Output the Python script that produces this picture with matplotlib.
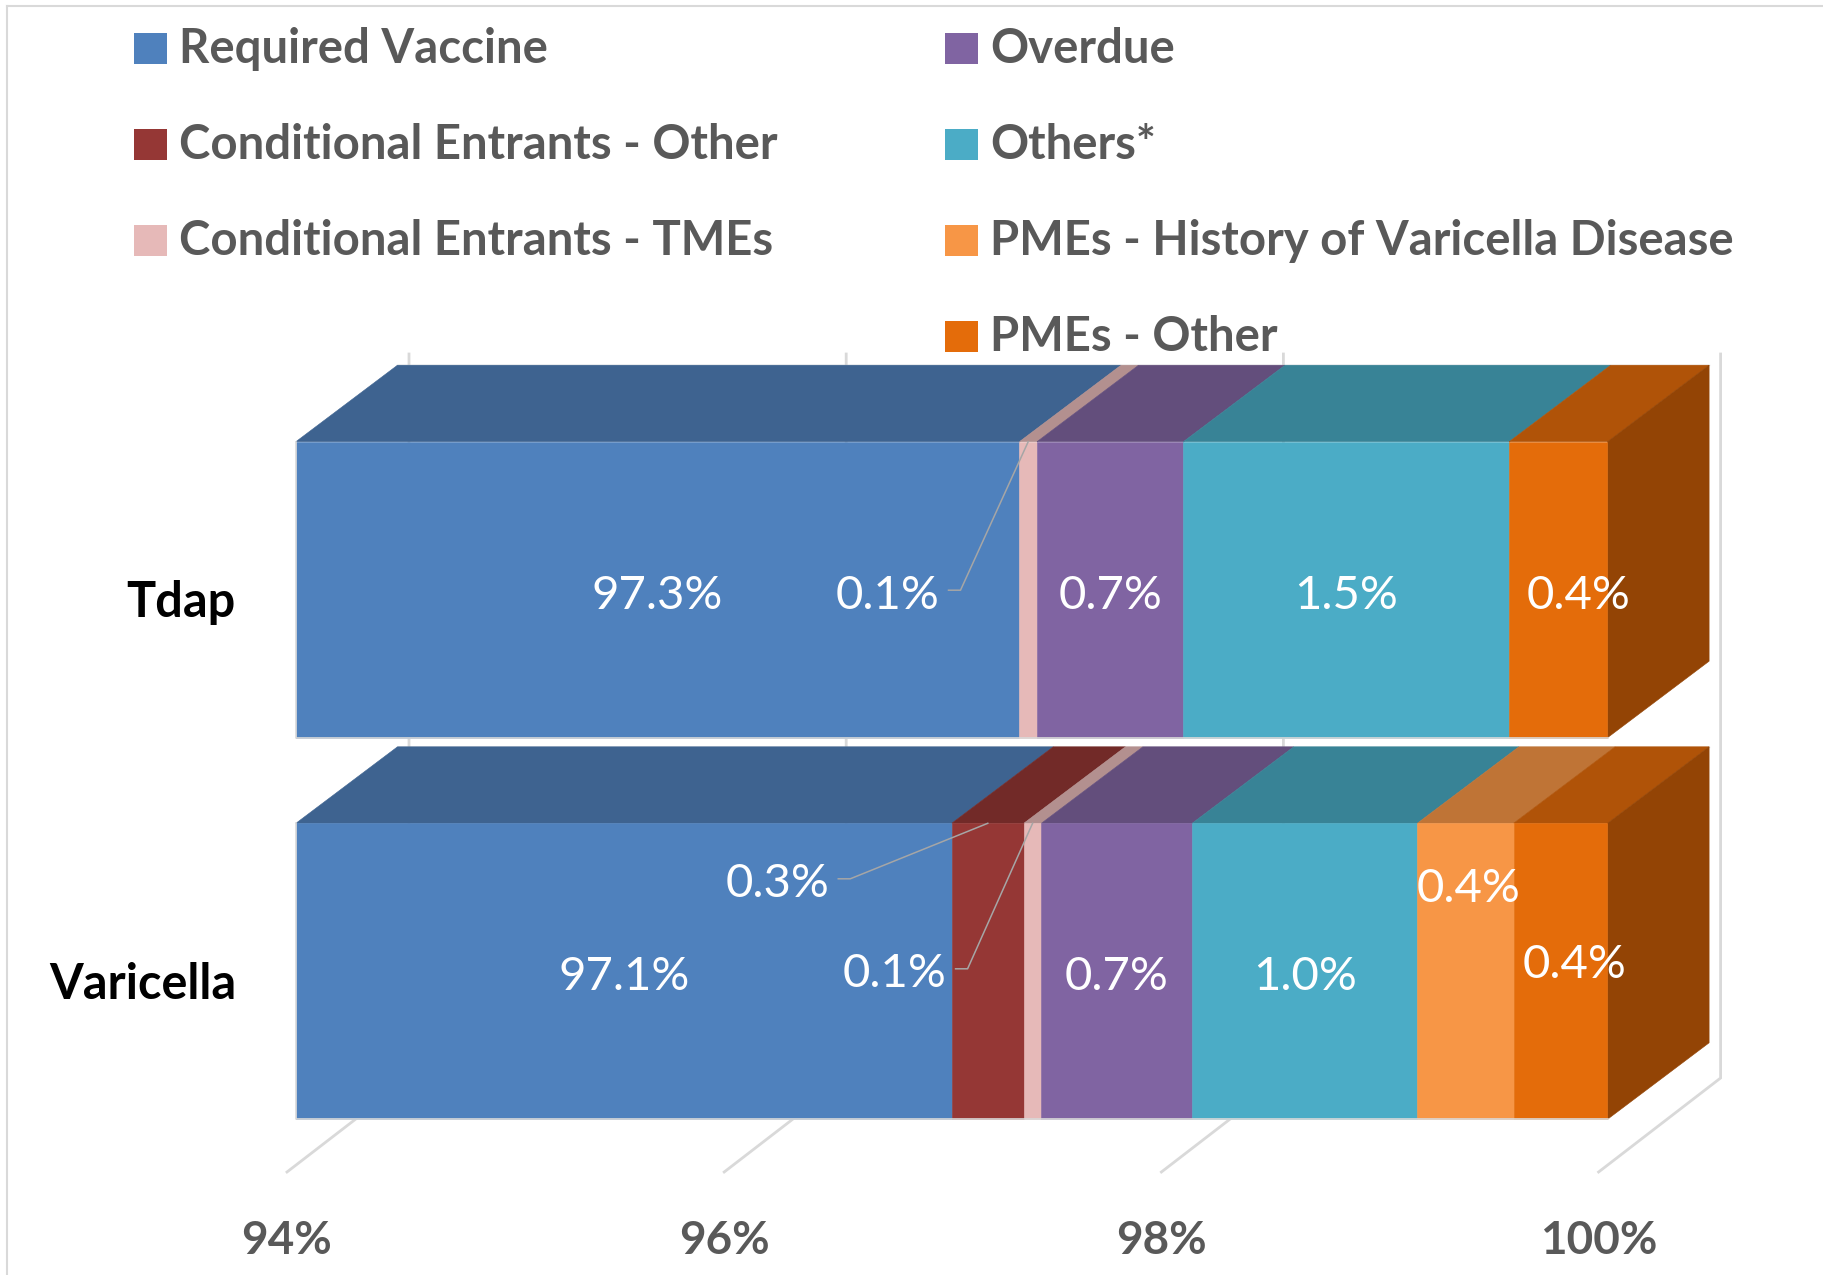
import matplotlib.pyplot as plt
from matplotlib.patches import Polygon, Rectangle

plt.rcParams['font.family'] = ['Lato', 'DejaVu Sans']

# ---------------- data ----------------
CATEGORIES = ["Tdap", "Varicella"]
SERIES = [
    "Required Vaccine",
    "Conditional Entrants - Other",
    "Conditional Entrants - TMEs",
    "Overdue",
    "Others*",
    "PMEs - History of Varicella Disease",
    "PMEs - Other",
]
TDAP = [97.31, 0.0, 0.08, 0.67, 1.49, 0.0, 0.45]
VARICELLA = [97.00, 0.33, 0.08, 0.69, 1.03, 0.44, 0.43]
TDAP_LABELS = ["97.3%", "", "0.1%", "0.7%", "1.5%", "", "0.4%"]
VARICELLA_LABELS = ["97.1%", "0.3%", "0.1%", "0.7%", "1.0%", "0.4%", "0.4%"]
TICKS = [94, 96, 98, 100]
TICK_LABELS = ["94%", "96%", "98%", "100%"]
AXIS_MIN = 94

# ---------------- style ----------------
FRONT_COLORS = ["#4F81BD", "#953735", "#E6B9B8", "#8064A2",
                "#4BACC6", "#F79646", "#E46C0A"]
TOP_COLORS = ["#3E6390", "#722A28", "#B3908F", "#634E7C",
              "#388396", "#BF7436", "#B05308"]
SIDE_COLOR = "#934405"
GRID = "#D9D9D9"
TEXT_GRAY = "#595959"

W, H = 1823, 1275
PX = 218.6          # pixels per percentage point on the front plane
X0_PX = 295.9       # pixel position of the 94% front edge
ROW_TOP = [441.7, 823.3]
BAR_H = 296.0
DXB, DYB = 101.6 / PX, 76.5          # bar depth
DXW = 113.1 / PX                     # front plane -> back wall
FLOOR_DX, FLOOR_DY = 122.0 / PX, 94.0
WALL_TOP, WALL_BOT = 354.0, 1078.0

# label offsets (px) for labels that are not centred on their segment
LABEL_OFFSETS = {
    (0, 2): (-140.7, 0.0, True),
    (0, 6): (20.0, 0.0, False),
    (1, 1): (-210.5, -93.0, True),
    (1, 2): (-138.0, -3.0, True),
    (1, 5): (3.0, -88.0, False),
    (1, 6): (14.5, -12.0, False),
}

fig = plt.figure(figsize=(W / 100, H / 100), dpi=100)
ax = fig.add_axes([0, 0, 1, 1])
xmin = AXIS_MIN - X0_PX / PX
ax.set_xlim(xmin, AXIS_MIN + (W - X0_PX) / PX)
ax.set_ylim(H, 0)
ax.axis('off')

# chart border (top and left visible)
ax.plot([xmin + 7.5 / PX] * 2, [6, H + 10], color=GRID, lw=1.5, zorder=1)
ax.plot([xmin + 7.5 / PX, 102], [6, 6], color=GRID, lw=1.5, zorder=1)

# back wall gridlines and floor lines
for t in TICKS:
    xb = t + DXW
    ax.plot([xb, xb, xb - FLOOR_DX], [WALL_TOP, WALL_BOT, WALL_BOT + FLOOR_DY],
            color=GRID, lw=2, zorder=1, solid_joinstyle='miter')
for t, lab in zip(TICKS, TICK_LABELS):
    ax.text(t + DXW - FLOOR_DX, 1254, lab, ha='center', va='baseline',
            fontsize=33, fontweight='bold', color=TEXT_GRAY)

# bars
for r, (vals, labels) in enumerate([(TDAP, TDAP_LABELS), (VARICELLA, VARICELLA_LABELS)]):
    top = ROW_TOP[r]
    bot = top + BAR_H
    mid_y = top + BAR_H / 2
    cum = 0.0
    for i, v in enumerate(vals):
        if v <= 0:
            continue
        left = max(cum, AXIS_MIN)
        right = cum + v
        cum = right
        ax.add_patch(Polygon([(left, top), (right, top), (right + DXB, top - DYB),
                              (left + DXB, top - DYB)], closed=True,
                             fc=TOP_COLORS[i], ec=TOP_COLORS[i], lw=0.4, zorder=3))
        ax.add_patch(Rectangle((left, top), right - left, BAR_H, fc=FRONT_COLORS[i],
                               ec=FRONT_COLORS[i], lw=0.4, zorder=4))
        # data label
        seg_mid = (left + right) / 2
        dx, dy, leader = LABEL_OFFSETS.get((r, i), (0.0, 0.0, False))
        lx = seg_mid + dx / PX
        base = mid_y + 19 + dy
        ax.text(lx, base, labels[i], ha='center', va='baseline', fontsize=34,
                color='white', zorder=8)
        if leader:
            ly = base - 18.5
            ax.plot([lx + 61 / PX, lx + 73 / PX, seg_mid], [ly, ly, top],
                    color='#A6A6A6', lw=1.1, zorder=7)
    # right side face
    ax.add_patch(Polygon([(cum, top), (cum + DXB, top - DYB),
                          (cum + DXB, bot - DYB), (cum, bot)], closed=True,
                         fc=SIDE_COLOR, ec=SIDE_COLOR, lw=0.4, zorder=3))
    # thin light outline
    ax.plot([AXIS_MIN, AXIS_MIN, cum], [top, bot, bot], color=GRID, lw=1.2, zorder=5)
    ax.plot([AXIS_MIN + DXB, cum + DXB], [top - DYB, top - DYB], color=GRID, lw=1.0, zorder=2)
    # category label
    ax.text(AXIS_MIN - 60 / PX, mid_y + 27.5, CATEGORIES[r], ha='right', va='baseline',
            fontsize=35, fontweight='bold', color='black')

# legend (Excel layout: 3 entries in first column, 4 in second)
lg = fig.add_axes([0, 0, 1, 1])
lg.set_xlim(0, W)
lg.set_ylim(H, 0)
lg.axis('off')
COL_X = [133.7, 945.3]
ROW_BOTTOM = [64.0, 159.8, 256.0, 352.0]
for i, name in enumerate(SERIES):
    col = 0 if i < 3 else 1
    row = i if i < 3 else i - 3
    x = COL_X[col]
    yb = ROW_BOTTOM[row]
    lg.add_patch(Rectangle((x, yb - 31), 33, 31, fc=FRONT_COLORS[i], ec='none'))
    lg.text(x + 45, yb - 1, name, ha='left', va='baseline', fontsize=34,
            fontweight='bold', color=TEXT_GRAY)

fig.savefig("out.png", dpi=100)
